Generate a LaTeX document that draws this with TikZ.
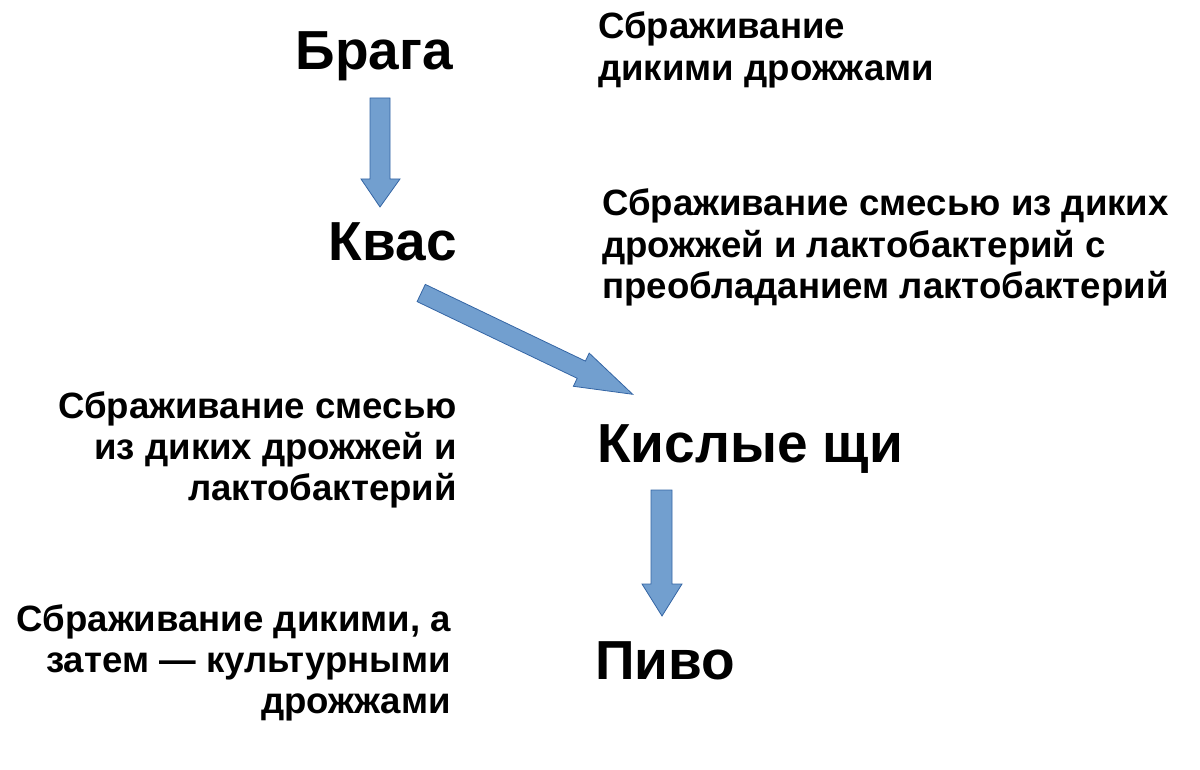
\documentclass[tikz,border=0pt]{standalone}
\usepackage{fontspec}
\setmainfont{Liberation Sans}
\definecolor{arrfill}{HTML}{729FCF}
\definecolor{arrline}{HTML}{3465A4}
\begin{document}
\begin{tikzpicture}[x=1pt,y=-1pt,
  big/.style={inner sep=0pt,font=\fontsize{55}{63}\selectfont\bfseries},
  note/.style={inner sep=0pt,font=\fontsize{36.6}{41.4}\selectfont\bfseries},
  blockarrow/.style={fill=arrfill,draw=arrline,line width=0.8pt,line join=miter}]
\useasboundingbox (0,0) rectangle (1200,770);
% main stages
\node[big,anchor=base east] (braga) at (453,70) {Брага};
\node[big,anchor=base east] (kvas) at (457,261) {Квас};
\node[big,anchor=base west] (shchi) at (597,462) {Кислые щи};
\node[big,anchor=base west] (pivo) at (595,679) {Пиво};
% descriptions
\node[note,anchor=base west] (d1) at (598,39)
  {\begin{tabular}[t]{@{}l@{}}Сбраживание\\дикими дрожжами\end{tabular}};
\node[note,anchor=base west] (d2) at (602,216)
  {\begin{tabular}[t]{@{}l@{}}Сбраживание смесью из диких\\дрожжей и лактобактерий с\\преобладанием лактобактерий\end{tabular}};
\node[note,anchor=base east] (d3) at (457,418)
  {\begin{tabular}[t]{@{}r@{}}Сбраживание смесью\\из диких дрожжей и\\лактобактерий\end{tabular}};
\node[note,anchor=base east] (d4) at (451,631)
  {\begin{tabular}[t]{@{}r@{}}Сбраживание дикими, а\\затем — культурными\\дрожжами\end{tabular}};
% block arrows
\draw[blockarrow] (370,98) -- (390,98) -- (390,179) -- (400,179) -- (380,207)
  -- (361,179) -- (370,179) -- cycle;
\draw[blockarrow] (425.3,284.4) -- (585.4,361.1) -- (589.2,353.1) -- (632.7,394.3)
  -- (573.4,386.3) -- (577.2,378.3) -- (417.1,301.6) -- cycle;
\draw[blockarrow] (651,490) -- (672,490) -- (672,584) -- (682,584) -- (662,616)
  -- (642,584) -- (651,584) -- cycle;
\end{tikzpicture}
\end{document}
